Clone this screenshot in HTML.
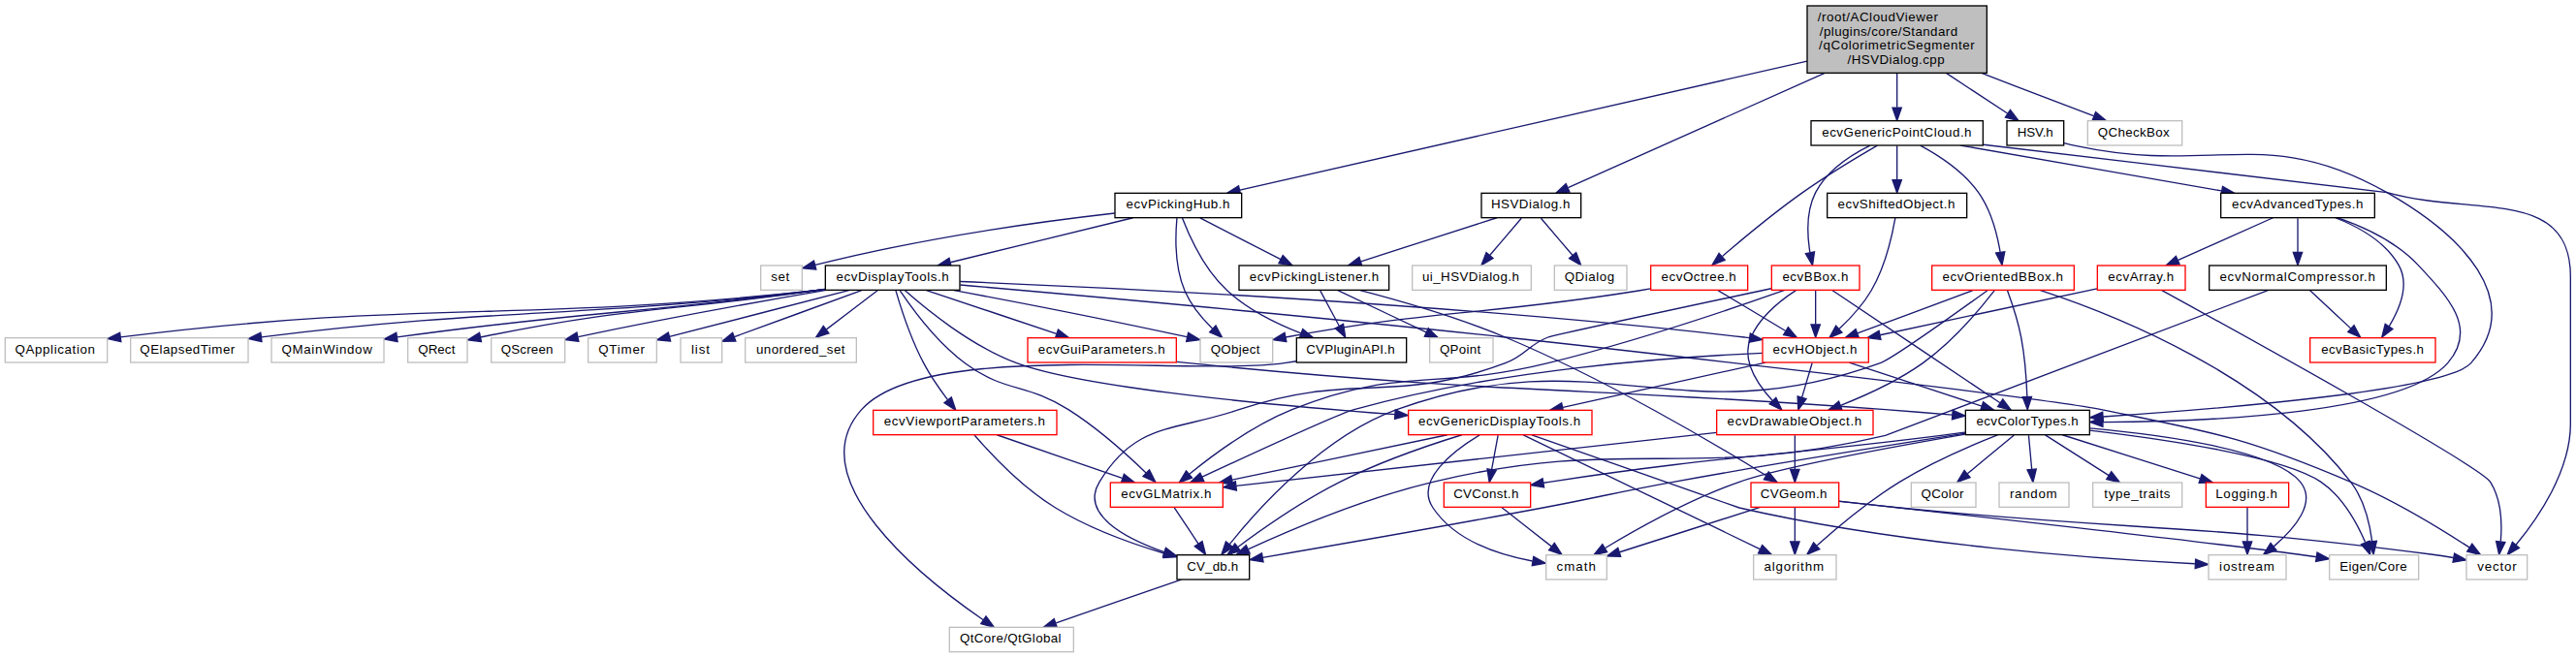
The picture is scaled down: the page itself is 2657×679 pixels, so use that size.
<!DOCTYPE html>
<html><head><meta charset="utf-8"><title>HSVDialog.cpp include dependency graph</title><style>html,body{margin:0;padding:0;background:#fff;overflow:hidden;}svg{display:block;}text{font-family:"Liberation Sans",sans-serif;font-size:10px;fill:#000;}</style></head><body>
<svg width="2657" height="679" viewBox="0 0 1992.75 509.25">
<g transform="translate(4.0 505.0)">
<g fill="none" stroke="#191970" stroke-width="1.0">
<path d="M1393.93,-457.67C1279.25,-431.58 1053.45,-380.21 955.13,-357.84"/>
<path d="M1407.25,-448.36C1347.48,-421.64 1255.36,-380.46 1209.09,-359.78"/>
<path d="M1528.89,-448.45C1558.35,-437.16 1591.8,-424.34 1615.65,-415.2"/>
<path d="M1463.5,-448.45C1463.5,-439.73 1463.5,-430.1 1463.5,-421.96"/>
<path d="M1501.53,-448.45C1517.44,-437.96 1535.34,-426.16 1548.93,-417.22"/>
<path d="M910.61,-336.32C915.88,-322.7 927.74,-296.22 945.5,-280 961.7,-265.2 983.64,-254.43 1002.45,-247.14"/>
<path d="M858.28,-339.98C803.65,-333.78 712.85,-321.61 626.71,-299.9"/>
<path d="M924.37,-336.32C941.21,-327.66 967.31,-314.24 986.74,-304.25"/>
<path d="M872.48,-336.44C834.25,-327.1 772.93,-312.12 731.24,-301.93"/>
<path d="M906.45,-336.17C905.3,-323.27 904.53,-298.75 912.5,-280 917.22,-268.89 925.82,-258.64 933.85,-250.74"/>
<path d="M998.97,-225.42C995.77,-224.92 992.58,-224.44 989.5,-224 917.11,-213.76 711.28,-242.45 662.5,-188 613.66,-133.49 711.08,-56.63 756.7,-25.21"/>
<path d="M1017.29,-280.08C1021.26,-272.69 1027.03,-261.95 1031.93,-252.81"/>
<path d="M1047.58,-280.46C1078.01,-272.55 1122.95,-259.66 1160.5,-244 1237.54,-211.86 1322.82,-161.29 1362.26,-136.97"/>
<path d="M1030.56,-280.44C1049.07,-271.68 1078.08,-257.94 1099.36,-247.86"/>
<path d="M1418.77,-117.01C1433.19,-115.38 1450.15,-113.52 1465.5,-112 1647.97,-93.87 1694.71,-99.96 1876.5,-76 1882.13,-75.26 1888.08,-74.34 1893.86,-73.37"/>
<path d="M1418.52,-117.22C1500.07,-108.15 1705.02,-85.18 1773.5,-76 1778.2,-75.37 1783.1,-74.68 1787.98,-73.97"/>
<path d="M1357.72,-112.44C1328.24,-103.02 1280.81,-87.87 1248.92,-77.68"/>
<path d="M1384.5,-112.08C1384.5,-105.01 1384.5,-94.86 1384.5,-85.99"/>
<path d="M738.8,-284.49C826.2,-276.84 1007.44,-260.56 1160.5,-244 1211.8,-238.45 1570.95,-198.33 1621.5,-188 1709.01,-170.11 1732.31,-166.96 1814.5,-132 1848.03,-117.74 1884.08,-95.7 1906.22,-81.32"/>
<path d="M634.29,-281.02C631.32,-280.65 628.37,-280.31 625.5,-280 390.47,-254.84 326.97,-273.61 89.24,-244.09"/>
<path d="M634.28,-281.08C631.32,-280.69 628.37,-280.33 625.5,-280 438.68,-258.4 388.08,-267.42 198.16,-244.12"/>
<path d="M634.27,-281.17C631.31,-280.76 628.37,-280.37 625.5,-280 485.47,-261.87 447.24,-263.99 303.24,-244.03"/>
<path d="M634.26,-281.26C631.3,-280.83 628.36,-280.41 625.5,-280 513.6,-263.97 481.97,-267.57 367.67,-244.01"/>
<path d="M692.09,-280.36C701.22,-266.8 720.54,-240.39 742.5,-224 773.74,-200.68 789.57,-208.88 822.5,-188 845.02,-173.72 867.87,-153.18 882.55,-139.03"/>
<path d="M695.72,-280.48C711.89,-266.09 747.05,-237.24 782.5,-224 834.44,-204.6 981.67,-191.16 1075.16,-184.29"/>
<path d="M635.18,-280.45C587.73,-272.35 515.01,-259.43 443.26,-244.29"/>
<path d="M712.17,-280.44C739.42,-271.36 782.68,-256.94 813.15,-246.78"/>
<path d="M688.92,-280.28C692.63,-267.5 700.39,-243.15 710.5,-224 715.76,-214.04 722.93,-203.74 729.15,-195.52"/>
<path d="M738.76,-287.1C850.45,-282.68 1120.52,-270.03 1345.5,-244 1346.77,-243.85 1348.06,-243.7 1349.35,-243.53"/>
<path d="M653.38,-280.44C615.37,-270.62 553.22,-254.56 513.88,-244.4"/>
<path d="M663.05,-280.44C636.04,-270.59 591.84,-254.46 564,-244.3"/>
<path d="M675.09,-280.32C664.39,-272.18 648.16,-259.84 635.34,-250.09"/>
<path d="M733.12,-280.47C777.31,-272.24 845.78,-259.13 914.16,-244.22"/>
<path d="M904.44,-112.08C909.48,-104.53 916.84,-93.49 923.01,-84.23"/>
<path d="M909.78,-56.44C883.65,-47.4 842.24,-33.06 812.92,-22.92"/>
<path d="M1140.62,-168.31C1120.54,-156.17 1090.21,-133.21 1104.5,-112 1121.55,-86.69 1155.54,-75.61 1181.44,-70.76"/>
<path d="M1174.39,-168.37C1214.18,-149.17 1310.21,-102.84 1357.4,-80.07"/>
<path d="M1115.62,-168.44C1070.52,-159 997.89,-143.8 949.2,-133.61"/>
<path d="M1126.87,-168.43C1101.22,-160.51 1063.48,-147.62 1032.5,-132 1003.54,-117.4 972.79,-95.9 953.62,-81.67"/>
<path d="M1180.99,-168.39C1231.16,-150.74 1340.99,-112.12 1341.5,-112 1468.03,-82.92 1622,-72.25 1693.88,-68.66"/>
<path d="M1154.85,-168.08C1153.52,-160.93 1151.62,-150.64 1149.96,-141.69"/>
<path d="M1157.59,-112.32C1167.99,-104.18 1183.76,-91.84 1196.22,-82.09"/>
<path d="M906.21,-225C909.35,-224.64 912.46,-224.3 915.5,-224 1154.39,-200 1215.07,-205.79 1454.5,-188 1471.27,-186.75 1489.48,-185.3 1506.16,-183.94"/>
<path d="M1612.58,-171.96C1670.34,-165.15 1763.02,-151.56 1791.5,-132 1807.96,-120.69 1819.19,-100.39 1825.68,-85.47"/>
<path d="M1516.14,-168.86C1460.6,-159.22 1373.08,-143.09 1341.5,-132 1303.37,-118.61 1262.31,-95.65 1237.77,-80.91"/>
<path d="M1541.27,-168.36C1520.66,-160.25 1490.1,-147.13 1465.5,-132 1441.92,-117.49 1417.48,-97 1401.7,-82.93"/>
<path d="M1516.41,-169.59C1461.63,-161.04 1369.48,-146.3 1290.5,-132 1245.47,-123.85 1234.48,-120.42 1189.5,-112 1112.77,-97.63 1022.81,-82.05 972.87,-73.51"/>
<path d="M1612.67,-173.6C1668.49,-168.54 1755.41,-156.82 1775.5,-132 1788.44,-116.01 1770.93,-95.72 1754.95,-82.09"/>
<path d="M1516.2,-170.42C1509.91,-169.59 1503.55,-168.77 1497.5,-168 1362.96,-150.97 1328.55,-152.51 1194.5,-132 1193.03,-131.78 1191.54,-131.54 1190.04,-131.3"/>
<path d="M1554.06,-168.32C1544.35,-160.26 1529.68,-148.08 1518,-138.37"/>
<path d="M1591.44,-168.44C1620.16,-159.32 1665.83,-144.81 1697.82,-134.65"/>
<path d="M1565.33,-168.08C1565.98,-161.01 1566.92,-150.86 1567.74,-141.99"/>
<path d="M1578.16,-168.32C1591.42,-159.9 1611.77,-146.97 1627.35,-137.07"/>
<path d="M1734.5,-112.08C1734.5,-105.01 1734.5,-94.86 1734.5,-85.99"/>
<path d="M767.22,-168.44C793.35,-159.4 834.76,-145.06 864.08,-134.92"/>
<path d="M749.83,-168.26C761.71,-154.56 786.5,-127.97 812.5,-112 838.71,-95.9 871.57,-84.19 896.58,-76.76"/>
<path d="M1359.3,-231.75C1292.03,-228.84 1154.93,-219.25 1043.5,-188 1031.53,-184.64 964.55,-153.8 925.94,-135.83"/>
<path d="M1361.84,-224.44C1319.36,-215.04 1251.07,-199.93 1205.03,-189.74"/>
<path d="M1426.49,-224.44C1454.2,-215.32 1498.25,-200.81 1529.12,-190.65"/>
<path d="M1397.86,-224.08C1395.71,-216.85 1392.62,-206.41 1389.95,-197.4"/>
<path d="M1384.5,-168.08C1384.5,-161.01 1384.5,-150.86 1384.5,-141.99"/>
<path d="M1323.93,-170.27C1228.25,-159.64 1043.66,-139.13 952.35,-128.98"/>
<path d="M1153.88,-336.44C1125.49,-327.32 1080.36,-312.81 1048.75,-302.65"/>
<path d="M1172.9,-336.08C1166.27,-328.3 1156.48,-316.8 1148.44,-307.37"/>
<path d="M1188.1,-336.08C1194.73,-328.3 1204.52,-316.8 1212.56,-307.37"/>
<path d="M1530.28,-393.09C1638.94,-380.21 1842.03,-356.13 1842.5,-356 1909.32,-337.24 1984.5,-360.41 1984.5,-291 1984.5,-291 1984.5,-291 1984.5,-177 1984.5,-140.3 1959.18,-103.66 1942.29,-83.3"/>
<path d="M1442.65,-392.43C1427.92,-385.13 1409.3,-373.09 1400.5,-356 1393.16,-341.73 1393.97,-323.26 1396.15,-309.66"/>
<path d="M1448.31,-392.42C1433.29,-383.74 1409.8,-369.7 1390.5,-356 1368.34,-340.27 1344.32,-320.32 1328.44,-306.7"/>
<path d="M1512.62,-392.44C1567.38,-382.9 1655.91,-367.48 1714.41,-357.29"/>
<path d="M1463.5,-392.08C1463.5,-385.01 1463.5,-374.86 1463.5,-365.99"/>
<path d="M1481.53,-392.39C1495.73,-384.73 1514.98,-372.22 1526.5,-356 1536.18,-342.37 1540.97,-323.83 1543.31,-310.04"/>
<path d="M1376.56,-280.41C1338.29,-266.92 1260.79,-240.61 1193.5,-224 1106.66,-202.56 1078.39,-221.6 995.5,-188 965.17,-175.71 934.52,-153.07 916.01,-138.02"/>
<path d="M1366.21,-281.7C1308.44,-269.37 1197.54,-245.61 1193.5,-244 1177.57,-237.65 1176.56,-230.02 1160.5,-224 1073.48,-191.35 1042.56,-217.74 954.5,-188 903.27,-170.7 874.59,-178.2 846.5,-132 831.28,-106.96 866.37,-88.49 896.66,-77.77"/>
<path d="M1413.37,-280.37C1441.51,-261.49 1508.76,-216.38 1543.27,-193.24"/>
<path d="M1400.5,-280.08C1400.5,-273.01 1400.5,-262.86 1400.5,-253.99"/>
<path d="M1385.55,-280.47C1373.57,-272.7 1357.63,-260 1350.5,-244 1342.86,-226.85 1355.29,-207.9 1367.21,-194.91"/>
<path d="M1324.96,-280.32C1339,-271.9 1360.55,-258.97 1377.04,-249.07"/>
<path d="M1272.82,-281.59C1269.67,-281.03 1266.53,-280.49 1263.5,-280 1142.68,-260.48 1110.87,-266.13 990.5,-244 990.4,-243.98 990.3,-243.96 990.2,-243.94"/>
<path d="M1804.19,-336.47C1824.21,-329.53 1849.66,-317.9 1866.5,-300 1890.68,-274.3 1912.68,-250.61 1889.5,-224 1855.6,-185.09 1706.88,-178.72 1622.85,-178.31"/>
<path d="M1773.5,-336.08C1773.5,-329.01 1773.5,-318.86 1773.5,-309.99"/>
<path d="M1802.62,-336.44C1820.14,-329.62 1841.02,-318.14 1851.5,-300 1860.14,-285.05 1852.38,-265.97 1844.14,-252.35"/>
<path d="M1754.33,-336.44C1734.59,-327.64 1703.61,-313.81 1681.01,-303.72"/>
<path d="M1750.89,-280.41C1678.25,-252.83 1455.46,-168.23 1454.5,-168 1302.33,-131.97 1256.62,-168.24 1104.5,-132 1052.41,-119.59 994.79,-95.13 961.78,-80.01"/>
<path d="M1782.82,-280.32C1791.39,-272.34 1804.31,-260.31 1814.69,-250.65"/>
<path d="M1668.06,-280.48C1724.38,-249.57 1914.65,-144.52 1922.5,-132 1931.05,-118.37 1931.65,-99.83 1930.49,-86.04"/>
<path d="M1618.25,-281.66C1574.94,-272.38 1500.05,-256.33 1450.38,-245.69"/>
<path d="M1462.18,-336.49C1459.9,-323.57 1454.37,-298.53 1443.5,-280 1437.04,-268.98 1427.37,-258.54 1418.84,-250.5"/>
<path d="M1573.93,-280.46C1629.01,-262.42 1750.49,-215.11 1814.5,-132 1824.76,-118.68 1829.17,-99.85 1831.07,-85.88"/>
<path d="M1533.45,-280.25C1509.98,-263.3 1459.66,-227.32 1450.5,-224 1293.52,-167.05 1233.51,-244.88 1076.5,-188 1019.34,-167.29 969.67,-111.91 947.23,-83.83"/>
<path d="M1548.89,-280.19C1552.18,-271.22 1557.04,-256.86 1559.5,-244 1562.43,-228.7 1563.66,-211.05 1564.16,-198.01"/>
<path d="M1522.52,-280.44C1498.34,-271.44 1460.08,-257.19 1432.85,-247.05"/>
<path d="M1539.1,-280.41C1528.69,-266.93 1506.89,-240.62 1483.5,-224 1464.02,-210.15 1439.59,-199 1419.87,-191.25"/>
<path d="M1592.79,-394.35C1596.03,-393.49 1599.34,-392.68 1602.5,-392 1707.96,-369.35 1748.68,-409.22 1842.5,-356 1899.38,-323.73 1950.63,-273.16 1907.5,-224 1889.06,-202.98 1715.86,-188.72 1622.88,-182.52"/>
</g>
<g fill="#191970" stroke="#191970" stroke-width="1.0">
<polygon points="955.71,-354.38 945.18,-355.57 954.15,-361.2 955.71,-354.38"/>
<polygon points="1210.23,-356.46 1199.68,-355.57 1207.38,-362.85 1210.23,-356.46"/>
<polygon points="1617.16,-418.37 1625.25,-411.53 1614.65,-411.84 1617.16,-418.37"/>
<polygon points="1467,-421.7 1463.5,-411.7 1460,-421.7 1467,-421.7"/>
<polygon points="1551.13,-419.95 1557.56,-411.53 1547.28,-414.11 1551.13,-419.95"/>
<polygon points="1003.78,-250.38 1011.95,-243.64 1001.36,-243.81 1003.78,-250.38"/>
<polygon points="627.33,-296.45 616.77,-297.35 625.58,-303.23 627.33,-296.45"/>
<polygon points="988.38,-307.34 995.67,-299.65 985.18,-301.12 988.38,-307.34"/>
<polygon points="731.9,-298.49 721.35,-299.52 730.24,-305.29 731.9,-298.49"/>
<polygon points="936.53,-253.03 941.51,-243.68 931.78,-247.89 936.53,-253.03"/>
<polygon points="758.75,-28.06 765.08,-19.56 754.83,-22.25 758.75,-28.06"/>
<polygon points="1035.15,-254.22 1036.8,-243.75 1028.99,-250.91 1035.15,-254.22"/>
<polygon points="1364.18,-139.9 1370.83,-131.65 1360.49,-133.95 1364.18,-139.9"/>
<polygon points="1100.98,-250.96 1108.52,-243.52 1097.99,-244.63 1100.98,-250.96"/>
<polygon points="1894.71,-76.77 1903.95,-71.6 1893.5,-69.87 1894.71,-76.77"/>
<polygon points="1788.52,-77.42 1797.9,-72.49 1787.49,-70.5 1788.52,-77.42"/>
<polygon points="1249.74,-74.27 1239.15,-74.56 1247.61,-80.94 1249.74,-74.27"/>
<polygon points="1388,-85.75 1384.5,-75.75 1381,-85.75 1388,-85.75"/>
<polygon points="1908.38,-84.09 1914.81,-75.66 1904.53,-78.24 1908.38,-84.09"/>
<polygon points="89.61,-240.6 79.26,-242.83 88.74,-247.55 89.61,-240.6"/>
<polygon points="198.48,-240.63 188.13,-242.87 197.62,-247.58 198.48,-240.63"/>
<polygon points="303.53,-240.53 293.14,-242.61 302.56,-247.47 303.53,-240.53"/>
<polygon points="368.33,-240.57 357.83,-241.96 366.9,-247.43 368.33,-240.57"/>
<polygon points="885.12,-141.41 889.81,-131.91 880.22,-136.42 885.12,-141.41"/>
<polygon points="1075.44,-187.78 1085.16,-183.57 1074.93,-180.8 1075.44,-187.78"/>
<polygon points="443.66,-240.8 433.15,-242.14 442.2,-247.64 443.66,-240.8"/>
<polygon points="814.57,-250 822.95,-243.52 812.36,-243.36 814.57,-250"/>
<polygon points="732,-197.55 735.4,-187.52 726.49,-193.25 732,-197.55"/>
<polygon points="1349.98,-246.98 1359.41,-242.16 1349.03,-240.05 1349.98,-246.98"/>
<polygon points="514.72,-241 504.16,-241.89 512.97,-247.78 514.72,-241"/>
<polygon points="565.14,-240.99 554.54,-240.85 562.74,-247.57 565.14,-240.99"/>
<polygon points="637.19,-247.1 627.11,-243.83 632.96,-252.67 637.19,-247.1"/>
<polygon points="915.23,-247.57 924.25,-242.01 913.73,-240.73 915.23,-247.57"/>
<polygon points="926.03,-86.01 928.67,-75.75 920.21,-82.13 926.03,-86.01"/>
<polygon points="813.7,-19.48 803.1,-19.52 811.41,-26.1 813.7,-19.48"/>
<polygon points="1182.31,-74.16 1191.62,-69.09 1181.18,-67.26 1182.31,-74.16"/>
<polygon points="1359.21,-83.09 1366.69,-75.59 1356.16,-76.78 1359.21,-83.09"/>
<polygon points="949.69,-130.14 939.19,-131.52 948.26,-136.99 949.69,-130.14"/>
<polygon points="955.53,-78.73 945.43,-75.52 951.32,-84.33 955.53,-78.73"/>
<polygon points="1694.46,-72.13 1704.29,-68.16 1694.13,-65.14 1694.46,-72.13"/>
<polygon points="1153.38,-140.95 1148.12,-131.75 1146.5,-142.22 1153.38,-140.95"/>
<polygon points="1198.49,-84.75 1204.21,-75.83 1194.18,-79.24 1198.49,-84.75"/>
<polygon points="1506.64,-187.41 1516.32,-183.1 1506.07,-180.43 1506.64,-187.41"/>
<polygon points="1829.09,-86.35 1829.57,-75.77 1822.6,-83.75 1829.09,-86.35"/>
<polygon points="1239.28,-77.73 1228.92,-75.52 1235.64,-83.71 1239.28,-77.73"/>
<polygon points="1403.65,-79.97 1393.88,-75.84 1398.95,-85.15 1403.65,-79.97"/>
<polygon points="973.28,-70.03 962.84,-71.8 972.1,-76.94 973.28,-70.03"/>
<polygon points="1756.9,-79.16 1746.91,-75.63 1752.52,-84.62 1756.9,-79.16"/>
<polygon points="1190.47,-127.82 1180.02,-129.58 1189.29,-134.72 1190.47,-127.82"/>
<polygon points="1520.06,-135.53 1510.13,-131.83 1515.59,-140.92 1520.06,-135.53"/>
<polygon points="1699.22,-137.88 1707.69,-131.52 1697.1,-131.21 1699.22,-137.88"/>
<polygon points="1571.25,-142.03 1568.69,-131.75 1564.28,-141.39 1571.25,-142.03"/>
<polygon points="1629.31,-139.97 1635.88,-131.65 1625.56,-134.06 1629.31,-139.97"/>
<polygon points="1738,-85.75 1734.5,-75.75 1731,-85.75 1738,-85.75"/>
<polygon points="865.59,-138.1 873.9,-131.52 863.3,-131.48 865.59,-138.1"/>
<polygon points="897.79,-80.06 906.44,-73.93 895.86,-73.33 897.79,-80.06"/>
<polygon points="927.33,-132.62 916.79,-131.57 924.38,-138.96 927.33,-132.62"/>
<polygon points="1205.5,-186.26 1194.98,-187.52 1203.99,-193.09 1205.5,-186.26"/>
<polygon points="1530.23,-193.97 1538.64,-187.52 1528.04,-187.32 1530.23,-193.97"/>
<polygon points="1393.29,-196.34 1387.09,-187.75 1386.58,-198.33 1393.29,-196.34"/>
<polygon points="1388,-141.75 1384.5,-131.75 1381,-141.75 1388,-141.75"/>
<polygon points="952.54,-125.48 942.22,-127.86 951.77,-132.44 952.54,-125.48"/>
<polygon points="1049.59,-299.24 1039,-299.52 1047.44,-305.91 1049.59,-299.24"/>
<polygon points="1151.1,-305.09 1141.95,-299.75 1145.77,-309.63 1151.1,-305.09"/>
<polygon points="1215.23,-309.63 1219.05,-299.75 1209.9,-305.09 1215.23,-309.63"/>
<polygon points="1944.85,-80.9 1935.67,-75.62 1939.55,-85.48 1944.85,-80.9"/>
<polygon points="1399.63,-310.07 1398.14,-299.58 1392.77,-308.71 1399.63,-310.07"/>
<polygon points="1330.37,-303.75 1320.52,-299.85 1325.79,-309.04 1330.37,-303.75"/>
<polygon points="1715.36,-360.68 1724.61,-355.52 1714.16,-353.78 1715.36,-360.68"/>
<polygon points="1467,-365.75 1463.5,-355.75 1460,-365.75 1467,-365.75"/>
<polygon points="1546.83,-310.17 1544.76,-299.78 1539.9,-309.19 1546.83,-310.17"/>
<polygon points="918.11,-135.22 908.19,-131.52 913.64,-140.6 918.11,-135.22"/>
<polygon points="897.88,-81.05 906.26,-74.56 895.66,-74.41 897.88,-81.05"/>
<polygon points="1545.34,-196.07 1551.69,-187.59 1541.44,-190.26 1545.34,-196.07"/>
<polygon points="1404,-253.75 1400.5,-243.75 1397,-253.75 1404,-253.75"/>
<polygon points="1369.84,-197.23 1374.39,-187.66 1364.86,-192.31 1369.84,-197.23"/>
<polygon points="1379.3,-251.8 1386.08,-243.65 1375.7,-245.8 1379.3,-251.8"/>
<polygon points="991.15,-240.57 980.65,-242 989.76,-247.43 991.15,-240.57"/>
<polygon points="1622.7,-174.81 1612.69,-178.29 1622.68,-181.81 1622.7,-174.81"/>
<polygon points="1777,-309.75 1773.5,-299.75 1770,-309.75 1777,-309.75"/>
<polygon points="1846.99,-250.32 1838.55,-243.92 1841.16,-254.19 1846.99,-250.32"/>
<polygon points="1682.14,-300.4 1671.58,-299.52 1679.29,-306.79 1682.14,-300.4"/>
<polygon points="962.91,-76.67 952.37,-75.64 959.96,-83.02 962.91,-76.67"/>
<polygon points="1817.08,-253.21 1822.01,-243.83 1812.31,-248.09 1817.08,-253.21"/>
<polygon points="1933.92,-85.28 1929.23,-75.78 1926.97,-86.13 1933.92,-85.28"/>
<polygon points="1451.01,-242.24 1440.5,-243.57 1449.54,-249.09 1451.01,-242.24"/>
<polygon points="1420.93,-247.67 1411.15,-243.58 1416.24,-252.87 1420.93,-247.67"/>
<polygon points="1834.55,-86.23 1832.12,-75.92 1827.59,-85.5 1834.55,-86.23"/>
<polygon points="949.83,-81.48 940.92,-75.75 944.32,-85.78 949.83,-81.48"/>
<polygon points="1567.66,-198.01 1564.45,-187.91 1560.67,-197.81 1567.66,-198.01"/>
<polygon points="1433.96,-243.73 1423.37,-243.52 1431.52,-250.29 1433.96,-243.73"/>
<polygon points="1420.92,-187.91 1410.33,-187.63 1418.44,-194.45 1420.92,-187.91"/>
<polygon points="1622.98,-179.02 1612.77,-181.85 1622.52,-186 1622.98,-179.02"/>
</g>
<rect x="1394" y="-500.5" width="139" height="52" fill="#bfbfbf" stroke="#000" stroke-width="1.0"/>
<text x="1402.04" y="-488.5" textLength="93.14">/root/ACloudViewer</text>
<text x="1403.6" y="-477.2" textLength="106.7">/plugins/core/Standard</text>
<text x="1403.09" y="-466.5" textLength="120.46">/qColorimetricSegmenter</text>
<text x="1425.21" y="-455.5" textLength="74.98">/HSVDialog.cpp</text>
<rect x="858.5" y="-355.5" width="98" height="19" fill="#fff" stroke="#000" stroke-width="1.0"/>
<text x="867.22" y="-343.5" textLength="80.15">ecvPickingHub.h</text>
<rect x="1142" y="-355.5" width="77" height="19" fill="#fff" stroke="#000" stroke-width="1.0"/>
<text x="1149.44" y="-343.5" textLength="61.12">HSVDialog.h</text>
<rect x="1611" y="-411.5" width="73" height="19" fill="#fff" stroke="#bfbfbf" stroke-width="1.0"/>
<text x="1618.8" y="-399.5" textLength="55.51">QCheckBox</text>
<rect x="1397" y="-411.5" width="133" height="19" fill="#fff" stroke="#000" stroke-width="1.0"/>
<text x="1405.46" y="-399.5" textLength="115.68">ecvGenericPointCloud.h</text>
<rect x="1548.5" y="-411.5" width="44" height="19" fill="#fff" stroke="#000" stroke-width="1.0"/>
<text x="1556.62" y="-399.5" textLength="27.65">HSV.h</text>
<rect x="999" y="-243.5" width="85" height="19" fill="#fff" stroke="#000" stroke-width="1.0"/>
<text x="1006.35" y="-231.5" textLength="68.69">CVPluginAPI.h</text>
<rect x="584.5" y="-299.5" width="32" height="19" fill="#fff" stroke="#bfbfbf" stroke-width="1.0"/>
<text x="592.35" y="-287.5" textLength="14.38">set</text>
<rect x="954.5" y="-299.5" width="116" height="19" fill="#fff" stroke="#000" stroke-width="1.0"/>
<text x="962.5" y="-287.5" textLength="100.17">ecvPickingListener.h</text>
<rect x="634.5" y="-299.5" width="104" height="19" fill="#fff" stroke="#000" stroke-width="1.0"/>
<text x="642.83" y="-287.5" textLength="87.22">ecvDisplayTools.h</text>
<rect x="924.5" y="-243.5" width="56" height="19" fill="#fff" stroke="#bfbfbf" stroke-width="1.0"/>
<text x="932.51" y="-231.5" textLength="38.05">QObject</text>
<rect x="730.5" y="-19.5" width="96" height="19" fill="#fff" stroke="#bfbfbf" stroke-width="1.0"/>
<text x="738.52" y="-7.5" textLength="78.35">QtCore/QtGlobal</text>
<rect x="1350.5" y="-131.5" width="68" height="19" fill="#fff" stroke="#f00" stroke-width="1.0"/>
<text x="1357.8" y="-119.5" textLength="51.51">CVGeom.h</text>
<rect x="1102" y="-243.5" width="49" height="19" fill="#fff" stroke="#bfbfbf" stroke-width="1.0"/>
<text x="1109.69" y="-231.5" textLength="31.72">QPoint</text>
<rect x="1904" y="-75.5" width="47" height="19" fill="#fff" stroke="#bfbfbf" stroke-width="1.0"/>
<text x="1912.44" y="-63.5" textLength="30.32">vector</text>
<rect x="1798" y="-75.5" width="69" height="19" fill="#fff" stroke="#bfbfbf" stroke-width="1.0"/>
<text x="1805.98" y="-63.5" textLength="52.02">Eigen/Core</text>
<rect x="1192" y="-75.5" width="47" height="19" fill="#fff" stroke="#bfbfbf" stroke-width="1.0"/>
<text x="1200.19" y="-63.5" textLength="30.22">cmath</text>
<rect x="1352.5" y="-75.5" width="64" height="19" fill="#fff" stroke="#bfbfbf" stroke-width="1.0"/>
<text x="1360.64" y="-63.5" textLength="46.11">algorithm</text>
<rect x="0" y="-243.5" width="79" height="19" fill="#fff" stroke="#bfbfbf" stroke-width="1.0"/>
<text x="7.63" y="-231.5" textLength="61.84">QApplication</text>
<rect x="97" y="-243.5" width="91" height="19" fill="#fff" stroke="#bfbfbf" stroke-width="1.0"/>
<text x="104.22" y="-231.5" textLength="73.47">QElapsedTimer</text>
<rect x="206" y="-243.5" width="87" height="19" fill="#fff" stroke="#bfbfbf" stroke-width="1.0"/>
<text x="213.81" y="-231.5" textLength="70.04">QMainWindow</text>
<rect x="311.5" y="-243.5" width="46" height="19" fill="#fff" stroke="#bfbfbf" stroke-width="1.0"/>
<text x="319.39" y="-231.5" textLength="28.61">QRect</text>
<rect x="855" y="-131.5" width="87" height="19" fill="#fff" stroke="#f00" stroke-width="1.0"/>
<text x="863.28" y="-119.5" textLength="69.74">ecvGLMatrix.h</text>
<rect x="1085.5" y="-187.5" width="142" height="19" fill="#fff" stroke="#f00" stroke-width="1.0"/>
<text x="1093.29" y="-175.5" textLength="125.39">ecvGenericDisplayTools.h</text>
<rect x="376" y="-243.5" width="57" height="19" fill="#fff" stroke="#bfbfbf" stroke-width="1.0"/>
<text x="383.51" y="-231.5" textLength="40.37">QScreen</text>
<rect x="791" y="-243.5" width="115" height="19" fill="#fff" stroke="#f00" stroke-width="1.0"/>
<text x="799.07" y="-231.5" textLength="98.15">ecvGuiParameters.h</text>
<rect x="671.5" y="-187.5" width="142" height="19" fill="#fff" stroke="#f00" stroke-width="1.0"/>
<text x="679.8" y="-175.5" textLength="124.7">ecvViewportParameters.h</text>
<rect x="1359.5" y="-243.5" width="82" height="19" fill="#fff" stroke="#f00" stroke-width="1.0"/>
<text x="1367.42" y="-231.5" textLength="65.16">ecvHObject.h</text>
<rect x="451" y="-243.5" width="53" height="19" fill="#fff" stroke="#bfbfbf" stroke-width="1.0"/>
<text x="458.9" y="-231.5" textLength="35.9">QTimer</text>
<rect x="522.5" y="-243.5" width="32" height="19" fill="#fff" stroke="#bfbfbf" stroke-width="1.0"/>
<text x="530.73" y="-231.5" textLength="14.25">list</text>
<rect x="572.5" y="-243.5" width="86" height="19" fill="#fff" stroke="#bfbfbf" stroke-width="1.0"/>
<text x="580.94" y="-231.5" textLength="68.7">unordered_set</text>
<rect x="906.5" y="-75.5" width="56" height="19" fill="#fff" stroke="#000" stroke-width="1.0"/>
<text x="914.1" y="-63.5" textLength="39.8">CV_db.h</text>
<rect x="1704.5" y="-75.5" width="60" height="19" fill="#fff" stroke="#bfbfbf" stroke-width="1.0"/>
<text x="1712.84" y="-63.5" textLength="42.62">iostream</text>
<rect x="1113" y="-131.5" width="67" height="19" fill="#fff" stroke="#f00" stroke-width="1.0"/>
<text x="1120.37" y="-119.5" textLength="50.36">CVConst.h</text>
<rect x="1516.5" y="-187.5" width="96" height="19" fill="#fff" stroke="#000" stroke-width="1.0"/>
<text x="1524.83" y="-175.5" textLength="78.93">ecvColorTypes.h</text>
<rect x="1474.5" y="-131.5" width="50" height="19" fill="#fff" stroke="#bfbfbf" stroke-width="1.0"/>
<text x="1482.07" y="-119.5" textLength="32.97">QColor</text>
<rect x="1702.5" y="-131.5" width="64" height="19" fill="#fff" stroke="#f00" stroke-width="1.0"/>
<text x="1709.99" y="-119.5" textLength="47.72">Logging.h</text>
<rect x="1542.5" y="-131.5" width="54" height="19" fill="#fff" stroke="#bfbfbf" stroke-width="1.0"/>
<text x="1550.74" y="-119.5" textLength="36.48">random</text>
<rect x="1615" y="-131.5" width="69" height="19" fill="#fff" stroke="#bfbfbf" stroke-width="1.0"/>
<text x="1623.78" y="-119.5" textLength="51.03">type_traits</text>
<rect x="1324" y="-187.5" width="121" height="19" fill="#fff" stroke="#f00" stroke-width="1.0"/>
<text x="1332.17" y="-175.5" textLength="103.97">ecvDrawableObject.h</text>
<rect x="1088.5" y="-299.5" width="92" height="19" fill="#fff" stroke="#bfbfbf" stroke-width="1.0"/>
<text x="1096.18" y="-287.5" textLength="75.01">ui_HSVDialog.h</text>
<rect x="1198.5" y="-299.5" width="56" height="19" fill="#fff" stroke="#bfbfbf" stroke-width="1.0"/>
<text x="1206.29" y="-287.5" textLength="38.53">QDialog</text>
<rect x="1366.5" y="-299.5" width="68" height="19" fill="#fff" stroke="#f00" stroke-width="1.0"/>
<text x="1374.82" y="-287.5" textLength="50.96">ecvBBox.h</text>
<rect x="1273" y="-299.5" width="75" height="19" fill="#fff" stroke="#f00" stroke-width="1.0"/>
<text x="1281.21" y="-287.5" textLength="57.87">ecvOctree.h</text>
<rect x="1714" y="-355.5" width="119" height="19" fill="#fff" stroke="#000" stroke-width="1.0"/>
<text x="1722.54" y="-343.5" textLength="101.52">ecvAdvancedTypes.h</text>
<rect x="1409.5" y="-355.5" width="108" height="19" fill="#fff" stroke="#000" stroke-width="1.0"/>
<text x="1417.66" y="-343.5" textLength="90.65">ecvShiftedObject.h</text>
<rect x="1490.5" y="-299.5" width="110" height="19" fill="#fff" stroke="#f00" stroke-width="1.0"/>
<text x="1498.64" y="-287.5" textLength="93.32">ecvOrientedBBox.h</text>
<rect x="1705" y="-299.5" width="137" height="19" fill="#fff" stroke="#000" stroke-width="1.0"/>
<text x="1713.11" y="-287.5" textLength="120.34">ecvNormalCompressor.h</text>
<rect x="1783" y="-243.5" width="97" height="19" fill="#fff" stroke="#f00" stroke-width="1.0"/>
<text x="1791.66" y="-231.5" textLength="79.29">ecvBasicTypes.h</text>
<rect x="1618.5" y="-299.5" width="68" height="19" fill="#fff" stroke="#f00" stroke-width="1.0"/>
<text x="1626.64" y="-287.5" textLength="51.01">ecvArray.h</text>
</g></svg>
</body></html>
